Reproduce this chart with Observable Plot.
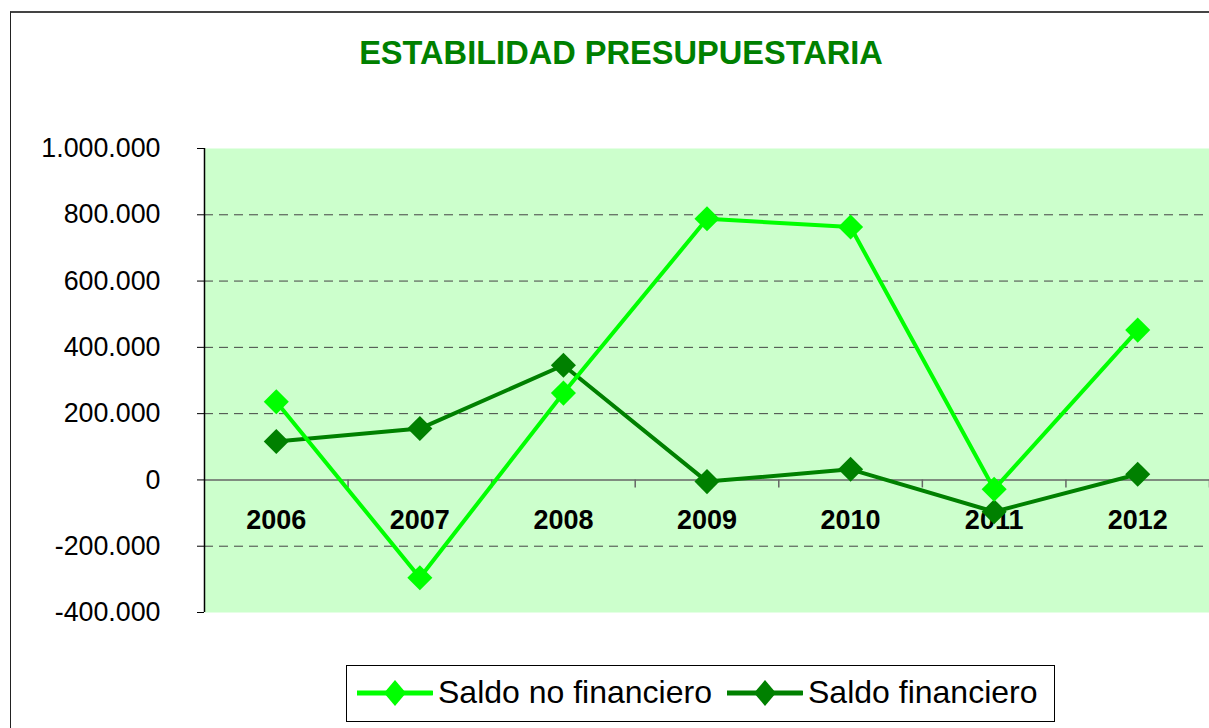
<!DOCTYPE html>
<html>
<head>
<meta charset="utf-8">
<script src="https://cdn.jsdelivr.net/npm/d3@7"></script>
<script src="https://cdn.jsdelivr.net/npm/@observablehq/plot@0.6"></script>
<style>
  body { margin: 0; background: #fff; font-family: "Liberation Sans", Arial, sans-serif; }
  #wrap { position: relative; width: 1209px; height: 728px; overflow: hidden; background: #fff; }
  #border { position: absolute; left: 10px; top: 11px; width: 1300px; height: 800px;
            border-left: 1.5px solid #222; border-top: 2px solid #444; }
  #title { position: absolute; left: 0; width: 1242px; top: 37px; line-height: 1; text-align: center;
           font-weight: bold; font-size: 32.6px; color: #008000; white-space: nowrap; }
  #chart { position: absolute; left: 0; top: 0; }
  #legend { position: absolute; left: 346px; top: 665px; width: 709px; height: 57px;
            border: 1px solid #000; box-sizing: border-box; background: #fff; }
  .lg-sw { position: absolute; }
  .lg-tx { position: absolute; font-size: 32px; line-height: 1; white-space: nowrap; color: #000; }
</style>
</head>
<body>
<div id="wrap">
  <div id="border"></div>
  <div id="chart"></div>
  <div id="title"></div>
  <div id="legend"></div>
</div>
<script>
// ---- data ----
const chartTitle = "ESTABILIDAD PRESUPUESTARIA";
const years = [2006, 2007, 2008, 2009, 2010, 2011, 2012];
const saldoNoFinanciero = [236000, -295000, 262000, 788000, 763000, -28000, 452000];
const saldoFinanciero = [116000, 155000, 346000, -5000, 32000, -96000, 17000];
const seriesNames = ["Saldo no financiero", "Saldo financiero"];
const seriesColors = ["#00ff00", "#008000"];
const yTicks = [-400000, -200000, 0, 200000, 400000, 600000, 800000, 1000000];
const gridValues = [-200000, 200000, 400000, 600000, 800000];
const xDomain = [2005.5, 2012.5];
const yDomain = [-400000, 1000000];

const locale = d3.formatLocale({decimal: ",", thousands: ".", grouping: [3], currency: ["", "€"], minus: "-"});
const fmt = locale.format(",d");

const rowsNo = years.map((y, i) => ({year: y, value: saldoNoFinanciero[i]}));
const rowsFin = years.map((y, i) => ({year: y, value: saldoFinanciero[i]}));
const boundaries = years.map(y => y + 0.5);

document.getElementById("title").textContent = chartTitle;

const chart = Plot.plot({
  width: 1209,
  height: 728,
  marginLeft: 204,
  marginRight: 0,
  marginTop: 148,
  marginBottom: 116,
  x: {domain: xDomain, axis: null},
  y: {domain: yDomain, ticks: yTicks, tickFormat: fmt, tickSize: 7, tickPadding: 37, label: null},
  style: {background: "transparent", fontFamily: "'Liberation Sans', Arial, sans-serif", fontSize: "26.8px", color: "#000", overflow: "visible"},
  marks: [
    Plot.frame({fill: "#ccffcc", stroke: "none"}),
    Plot.ruleY(gridValues, {stroke: "#444", strokeDasharray: "9,6", strokeWidth: 1}),
    Plot.ruleY([0], {stroke: "#666", strokeWidth: 1.5}),
    Plot.ruleX(boundaries, {x: d => d, y1: 0, y2: 0, insetBottom: -8, stroke: "#666", strokeWidth: 1.5}),
    Plot.ruleX([xDomain[0]], {y1: yDomain[0], y2: yDomain[1], stroke: "#000", strokeWidth: 1.5}),
    Plot.text(years, {x: d => d, y: 0, dy: 40, text: d => String(d), fontWeight: "bold", fontSize: 27, fill: "#000"}),
    Plot.line(rowsFin, {x: "year", y: "value", stroke: seriesColors[1], strokeWidth: 4}),
    Plot.dot(rowsFin, {x: "year", y: "value", symbol: "diamond2", r: 11.3, fill: seriesColors[1], stroke: "none"}),
    Plot.line(rowsNo, {x: "year", y: "value", stroke: seriesColors[0], strokeWidth: 4}),
    Plot.dot(rowsNo, {x: "year", y: "value", symbol: "diamond2", r: 11.3, fill: seriesColors[0], stroke: "none"})
  ]
});
document.getElementById("chart").appendChild(chart);

// ---- legend ----
const legend = document.getElementById("legend");
const legendItems = [
  {sw: 10, tx: 91},
  {sw: 380, tx: 461}
];
seriesNames.forEach((name, i) => {
  const sw = document.createElementNS("http://www.w3.org/2000/svg", "svg");
  sw.setAttribute("class", "lg-sw");
  sw.setAttribute("width", 76);
  sw.setAttribute("height", 30);
  sw.style.left = legendItems[i].sw + "px";
  sw.style.top = (28 - 1 - 15) + "px";
  sw.innerHTML = `<line x1="0" y1="15" x2="75" y2="15" stroke="${seriesColors[i]}" stroke-width="5" stroke-linecap="round"/>` +
                 `<path d="M38,2 L49,15 L38,28 L27,15 Z" fill="${seriesColors[i]}"/>`;
  legend.appendChild(sw);
  const tx = document.createElement("span");
  tx.className = "lg-tx";
  tx.textContent = name;
  tx.style.left = legendItems[i].tx + "px";
  tx.style.top = "10px";
  legend.appendChild(tx);
});
</script>
</body>
</html>
